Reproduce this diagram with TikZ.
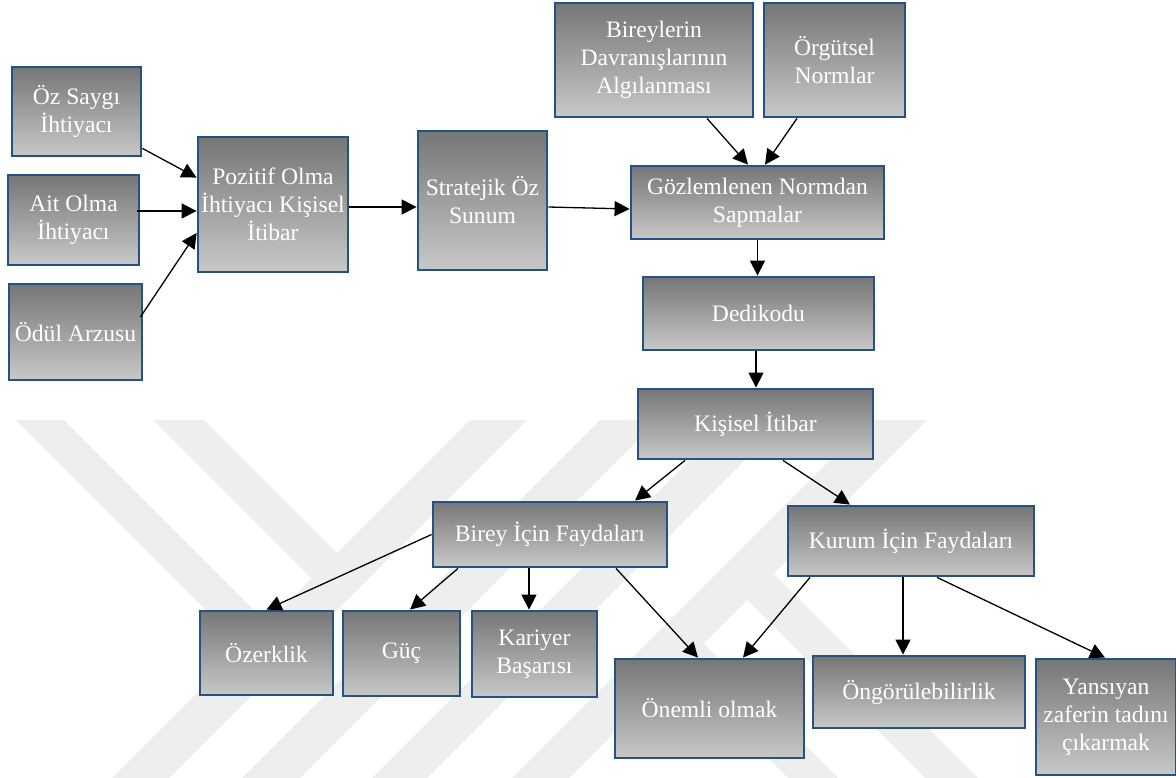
\documentclass[tikz,border=0pt]{standalone}
\usepackage{fontspec}
\setmainfont{Liberation Serif}
\usetikzlibrary{arrows.meta,shadings}

\definecolor{boxedge}{RGB}{38,82,130}
\definecolor{shadetop}{RGB}{118,118,118}
\definecolor{shadebot}{RGB}{200,200,200}
\definecolor{markgray}{RGB}{238,238,238}

\tikzset{
  box/.style={draw=boxedge, line width=2.8pt, top color=shadetop, bottom color=shadebot,
    text=white, align=center, inner sep=0pt,
    font=\fontsize{23.6}{28}\selectfont},
  arr/.style={line width=1.3pt, -{Triangle[length=15pt,width=15pt]}},
  band/.style={fill=markgray, draw=none}
}

% place a box by centre, width and height
\newcommand{\boxat}[6]{\node[box, minimum width=#4pt, minimum height=#5pt] (#1) at (#2,#3) {#6};}

\begin{document}
\begin{tikzpicture}[x=1pt,y=-1pt]
\useasboundingbox (0,0) rectangle (1176,778);

% faint striped emblem in the background
\fill[band] (470,420) -- (527,420) -- (169,778) -- (112,778) -- cycle;
\fill[band] (600,420) -- (658,420) -- (300,778) -- (242,778) -- cycle;
\fill[band] (730,420) -- (785,420) -- (427,778) -- (372,778) -- cycle;
\fill[band] (870,420) -- (927,420) -- (569,778) -- (512,778) -- cycle;
\fill[band] (16,420) -- (64,420) -- (267,623) -- (243,647) -- cycle;
\fill[band] (153,420) -- (204,420) -- (337,553) -- (311.5,578.5) -- cycle;
\fill[band] (747,600) -- (773.5,573.5) -- (978,778) -- (925,778) -- cycle;
\fill[band] (678.5,668.5) -- (703.5,643.5) -- (838,778) -- (788,778) -- cycle;

% input needs
\boxat{ozs}{76.5}{111.5}{129}{89}{Öz Saygı\\İhtiyacı}
\boxat{ait}{73.5}{220}{131}{90}{Ait Olma\\İhtiyacı}
\boxat{odul}{75.5}{332}{133}{96}{Ödül Arzusu}
\boxat{poz}{273}{204.5}{150}{135}{Pozitif Olma\\İhtiyacı Kişisel\\İtibar}
\boxat{str}{482.5}{200.5}{129}{139}{Stratejik Öz\\Sunum}

% norms
\boxat{bir}{654}{60}{198}{114}{Bireylerin\\Davranışlarının\\Algılanması}
\boxat{org}{834.5}{60}{141}{114}{Örgütsel\\Normlar}
\boxat{goz}{757.5}{202.5}{253}{73}{Gözlemlenen Normdan\\Sapmalar}
\boxat{ded}{758.5}{313.5}{231}{73}{Dedikodu}
\boxat{kis}{755.5}{424}{235}{70}{Kişisel İtibar}

% benefits
\boxat{bfay}{550}{534.5}{234}{65}{Birey İçin Faydaları}
\boxat{kfay}{911}{541}{246}{70}{Kurum İçin Faydaları}
\boxat{oze}{266.5}{653}{133}{84}{Özerklik}
\boxat{guc}{401.5}{653.5}{117}{85}{Güç}
\boxat{kar}{534.5}{654}{125}{86}{Kariyer\\Başarısı}
\boxat{onem}{709.5}{708.5}{189}{99}{Önemli olmak}
\boxat{ong}{919}{692}{212}{72}{Öngörülebilirlik}
\boxat{yan}{1106}{717}{140}{116}{Yansıyan\\zaferin tadını\\çıkarmak}

% connectors
\draw[arr] ([yshift=9pt]ozs.south east) -- ([yshift=-42pt]poz.north west);
\draw[arr] ([xshift=-3pt,yshift=9pt]ait.east) -- ([yshift=-6.5pt]poz.west);
\draw[arr] ([xshift=-3pt,yshift=15pt]odul.east) -- ([yshift=-28.5pt]poz.west);
\draw[arr] ([yshift=-2.5pt]poz.east) -- ([yshift=-6.5pt]str.west);
\draw[arr] ([yshift=-6.5pt]str.east) -- ([yshift=-6.5pt]goz.west);
\draw[arr] ([xshift=53pt]bir.south) -- ([xshift=-9.5pt]goz.north);
\draw[arr] ([xshift=-37.5pt]org.south) -- ([xshift=7.5pt]goz.north);
\draw[arr] (goz.south) -- (goz.south |- ded.north);
\draw[arr] ([xshift=-2.5pt]ded.south) -- ([xshift=-2.5pt]ded.south |- kis.north);
\draw[arr] ([xshift=-70.5pt]kis.south) -- ([xshift=85pt]bfay.north);
\draw[arr] ([xshift=27.5pt]kis.south) -- ([xshift=-61pt]kfay.north);
\draw[arr] (bfay.west) -- (oze.north);
\draw[arr] ([xshift=-92pt]bfay.south) -- ([xshift=8.5pt]guc.north);
\draw[arr] ([xshift=-21pt]bfay.south) -- ([xshift=-21pt]bfay.south |- kar.north);
\draw[arr] ([xshift=66pt]bfay.south) -- ([xshift=-11.5pt]onem.north);
\draw[arr] ([xshift=-101pt]kfay.south) -- ([xshift=33.5pt]onem.north);
\draw[arr] ([xshift=-8pt]kfay.south) -- ([xshift=-8pt]kfay.south |- ong.north);
\draw[arr] ([xshift=26pt]kfay.south) -- ([xshift=-1pt]yan.north);
\end{tikzpicture}
\end{document}
